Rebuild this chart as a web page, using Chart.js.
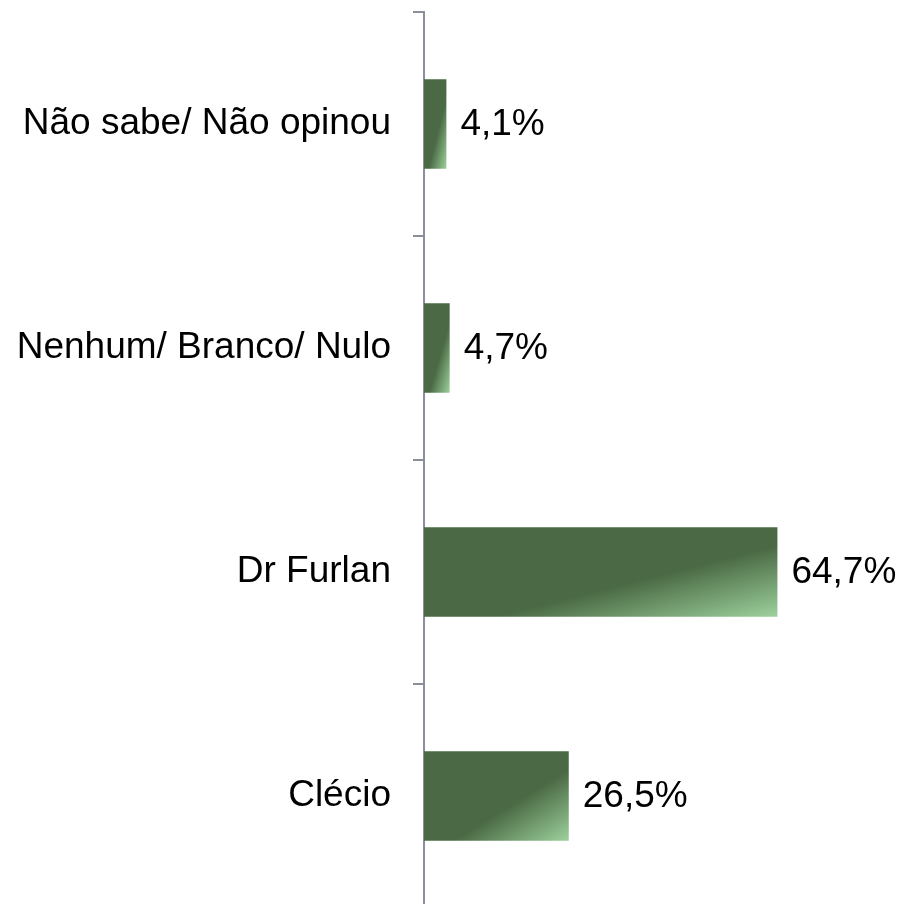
<!DOCTYPE html>
<html>
<head>
<meta charset="utf-8">
<script src="https://cdn.jsdelivr.net/npm/chart.js@4.4.1/dist/chart.umd.min.js"></script>
<style>
  html, body { margin: 0; padding: 0; background: #ffffff; overflow: hidden; width: 903px; height: 904px; }
  #wrap { width: 903px; height: 908px; position: relative; }
</style>
</head>
<body>
<div id="wrap"><canvas id="chart"></canvas></div>
<script>
const categories = ['Não sabe/ Não opinou', 'Nenhum/ Branco/ Nulo', 'Dr Furlan', 'Clécio'];
const values = [4.1, 4.7, 64.7, 26.5];

const DARK = '#4a6944';
const LIGHT = '#9dd19c';
const FONT = '"Liberation Sans", Arial, sans-serif';

// gradient with isolines parallel to the bar's anti-diagonal (like office "scale with shape")
const barGradient = (context) => {
  const chart = context.chart;
  const xs = chart.scales.x;
  const ys = chart.scales.y;
  if (!chart.chartArea || !xs || !ys) return DARK;
  const i = context.dataIndex;
  const left = xs.getPixelForValue(0);
  const right = xs.getPixelForValue(values[i]);
  const band = ys.height / categories.length;
  const half = band * 0.4 / 2;
  const top = ys.getPixelForValue(i) - half;
  const w = right - left;
  const h = half * 2;
  if (w <= 0 || h <= 0) return DARK;
  const k = 2 * w * h / (w * w + h * h);
  const g = chart.ctx.createLinearGradient(left, top, left + k * h, top + k * w);
  g.addColorStop(0, DARK);
  g.addColorStop(0.6, DARK);
  g.addColorStop(1, LIGHT);
  return g;
};

// value labels right of the bars
const valueLabels = {
  id: 'valueLabels',
  afterDatasetsDraw: (chart) => {
    const { ctx } = chart;
    const meta = chart.getDatasetMeta(0);
    ctx.save();
    ctx.font = `37px ${FONT}`;
    ctx.fillStyle = '#000000';
    ctx.textAlign = 'left';
    ctx.textBaseline = 'middle';
    meta.data.forEach((bar, i) => {
      const text = values[i].toFixed(1).replace('.', ',') + '%';
      ctx.fillText(text, bar.x + 14, bar.y + 1);
    });
    ctx.restore();
  },
};

new Chart(document.getElementById('chart').getContext('2d'), {
  type: 'bar',
  data: {
    labels: categories,
    datasets: [
      {
        data: values,
        backgroundColor: barGradient,
        borderWidth: 0,
        categoryPercentage: 1,
        barPercentage: 0.4,
      },
    ],
  },
  options: {
    indexAxis: 'y',
    responsive: true,
    maintainAspectRatio: false,
    animation: false,
    layout: { padding: { top: 12, right: 42, bottom: 0, left: 0 } },
    plugins: {
      legend: { display: false },
      tooltip: { enabled: false },
    },
    scales: {
      x: {
        display: false,
        min: 0,
        max: 80,
      },
      y: {
        afterFit: (scale) => {
          scale.width = 424;
          scale.paddingTop = 0;
          scale.paddingBottom = 0;
        },
        grid: {
          display: true,
          offset: true,
          drawOnChartArea: false,
          tickLength: 11,
          color: '#8b9098',
          lineWidth: 2,
        },
        border: { display: true, color: '#8b9098', width: 2 },
        ticks: {
          color: '#000000',
          padding: 22,
          font: { family: FONT, size: 37 },
        },
      },
    },
  },
  plugins: [valueLabels],
});
</script>
</body>
</html>
